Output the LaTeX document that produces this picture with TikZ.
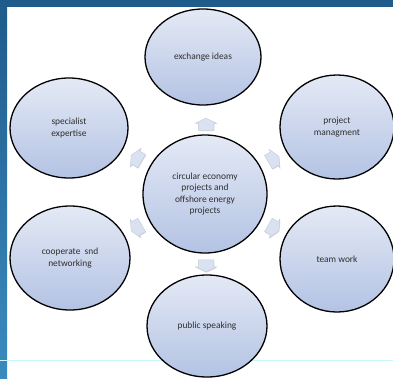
\documentclass[tikz,border=0pt]{standalone}
\usepackage{fontspec}
\setmainfont{Carlito}
\usepackage{tikz}
\usetikzlibrary{shapes.geometric,shapes.arrows,shadows}

\definecolor{banddark}{HTML}{1F5B8B}
\definecolor{bandlight}{HTML}{3B8BBF}
\definecolor{rulecyan}{HTML}{C8FAFA}
\definecolor{bubbletop}{HTML}{E4E9F5}
\definecolor{bubblebottom}{HTML}{B3C3E4}
\definecolor{bubbletext}{HTML}{2E2E2E}
\definecolor{arrowfill}{HTML}{DAE1F0}
\definecolor{arrowedge}{HTML}{C4CCDC}

\begin{document}
\begin{tikzpicture}[x=1pt,y=-1pt,
    bubble/.style={ellipse, draw=black, line width=1.3pt,
        top color=bubbletop, bottom color=bubblebottom,
        text=bubbletext, align=center, inner sep=0pt,
        font=\fontsize{9.4}{11.6}\selectfont},
    spoke/.style={single arrow, fill=arrowfill, draw=arrowedge, line width=0.4pt,
        inner xsep=0pt, inner ysep=7.5pt, minimum height=12pt,
        single arrow head extend=3pt, single arrow tip angle=130,
        drop shadow={opacity=0.3, shadow xshift=0.6pt, shadow yshift=-0.9pt}}
  ]
  % slide background
  \useasboundingbox[fill=white] (0,0) rectangle (393,378);
  \shade[top color=banddark, bottom color=bandlight] (0,0) rectangle (7,378);
  \fill[banddark] (0,0) rectangle (393,7);
  \draw[rulecyan, line width=1pt] (0,360) -- (393,360);

  \node[bubble, minimum width=124pt, minimum height=118pt] (center) at (205,194)
      {circular economy\\projects and\\offshore energy\\projects};
  \node[bubble, minimum width=116pt, minimum height=96pt] (ideas) at (203,57) {exchange ideas};
  \node[bubble, minimum width=114pt, minimum height=104pt] (management) at (337,127) {project\\managment};
  \node[bubble, minimum width=118pt, minimum height=100pt] (expertise) at (69,128) {specialist\\expertise};
  \node[bubble, minimum width=120pt, minimum height=104pt] (networking) at (70,258) {cooperate\ \ snd\\networking};
  \node[bubble, minimum width=114pt, minimum height=106pt] (teamwork) at (337,259) {team work};
  \node[bubble, minimum width=120pt, minimum height=102pt] (speaking) at (207,326) {public speaking};

  % arrows out of the centre
  \node[spoke, rotate=90] (toideas) at (206,126) {};
  \node[spoke, rotate=-90] (tospeaking) at (206,264) {};
  \node[spoke, rotate=150] (toexpertise) at (138,159) {};
  \node[spoke, rotate=210] (tonetworking) at (138,227) {};
  \node[spoke, rotate=30] (tomanagement) at (272,160) {};
  \node[spoke, rotate=-30] (toteamwork) at (272,227) {};
\end{tikzpicture}
\end{document}
